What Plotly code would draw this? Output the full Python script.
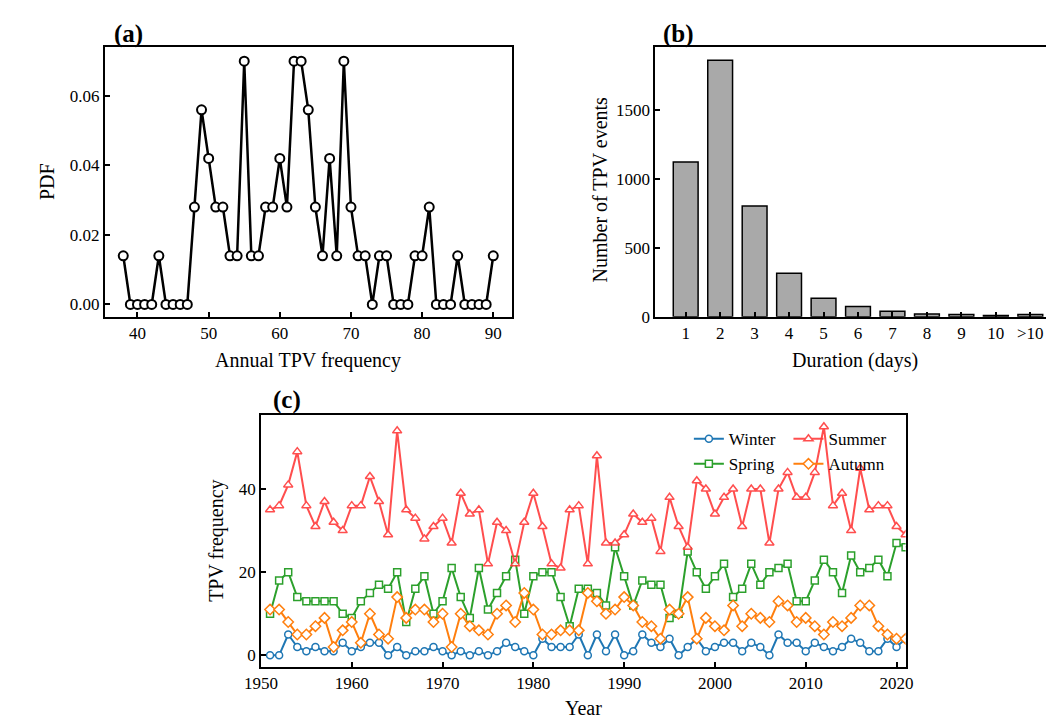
import plotly.graph_objects as go

# ---------------- data ----------------
# (a) PDF of annual TPV frequency
pdf_freq = list(range(38, 91))
pdf_vals = [0.014, 0, 0, 0, 0, 0.014, 0, 0, 0, 0,
            0.028, 0.056, 0.042, 0.028, 0.028, 0.014, 0.014, 0.070, 0.014, 0.014,
            0.028, 0.028, 0.042, 0.028, 0.070, 0.070, 0.056, 0.028, 0.014, 0.042,
            0.014, 0.070, 0.028, 0.014, 0.014, 0, 0.014, 0.014, 0, 0,
            0, 0.014, 0.014, 0.028, 0, 0, 0, 0.014, 0, 0,
            0, 0, 0.014]

# (b) duration histogram
dur_labels = ["1", "2", "3", "4", "5", "6", "7", "8", "9", "10", ">10"]
dur_counts = [1125, 1864, 804, 316, 133, 74, 39, 19, 15, 8, 16]

# (c) seasonal TPV frequency
years = list(range(1951, 2022))
winter = [0, 0, 5, 2, 1, 2, 1, 1, 3, 1,
          2, 3, 3, 0, 2, 0, 1, 1, 2, 1,
          0, 1, 0, 1, 0, 1, 3, 2, 1, 0,
          4, 2, 2, 2, 5, 0, 5, 1, 5, 0,
          1, 5, 3, 2, 4, 0, 2, 4, 1, 2,
          3, 3, 1, 3, 2, 0, 5, 3, 3, 1,
          3, 2, 1, 2, 4, 3, 1, 1, 4, 2, 4]
spring = [10, 18, 20, 14, 13, 13, 13, 13, 10, 9,
          13, 15, 17, 16, 20, 8, 16, 19, 10, 13,
          21, 14, 9, 21, 11, 15, 19, 23, 10, 19,
          20, 20, 14, 7, 16, 16, 15, 12, 26, 19,
          12, 18, 17, 17, 9, 10, 25, 20, 16, 19,
          22, 14, 16, 22, 17, 20, 21, 22, 13, 13,
          18, 23, 20, 15, 24, 20, 21, 23, 19, 27, 26]
summer = [35, 36, 41, 49, 36, 31, 37, 32, 30, 36,
          36, 43, 37, 29, 54, 35, 33, 28, 31, 33,
          27, 39, 34, 35, 22, 32, 30, 22, 32, 39,
          31, 22, 21, 35, 36, 22, 48, 27, 27, 29,
          34, 32, 33, 25, 38, 31, 26, 42, 40, 34,
          38, 40, 31, 40, 40, 27, 40, 44, 38, 38,
          44, 55, 36, 39, 30, 45, 35, 36, 36, 31, 29]
autumn = [11, 11, 8, 5, 5, 7, 9, 2, 6, 8,
          3, 10, 5, 4, 14, 9, 11, 11, 8, 10,
          2, 10, 7, 6, 5, 10, 12, 8, 15, 11,
          5, 5, 6, 6, 6, 15, 13, 10, 11, 14,
          12, 8, 7, 4, 11, 10, 14, 4, 9, 7,
          6, 12, 7, 10, 9, 8, 13, 12, 8, 9,
          7, 5, 8, 7, 9, 12, 12, 7, 5, 4, 4]

# ---------------- figure ----------------
W, H = 1054, 720
FONT = "Liberation Serif, Times New Roman, serif"
TICK = 17
TITLE = 20
LEG = 17
PANEL = 25


def px(x):
    return x / W


def py(y):
    return 1 - y / H


fig = go.Figure()

# (a)
fig.add_trace(go.Scatter(
    x=pdf_freq, y=pdf_vals, mode="lines+markers", xaxis="x", yaxis="y",
    line=dict(color="black", width=2.5),
    marker=dict(symbol="circle", size=9, color="white",
                line=dict(color="black", width=2)),
    showlegend=False, cliponaxis=False))

# (b)
fig.add_trace(go.Bar(
    x=dur_labels, y=dur_counts, xaxis="x2", yaxis="y2", width=0.72,
    marker=dict(color="#a9a9a9", line=dict(color="black", width=1.5)),
    showlegend=False))

# (c)
series = [
    ("Winter", winter, "#1f77b4", "circle", 7, "legend"),
    ("Spring", spring, "#2ca02c", "square", 7, "legend"),
    ("Summer", summer, "#ff3b3b", "triangle-up", 8, "legend2"),
    ("Autumn", autumn, "#ff7f0e", "diamond", 8, "legend2"),
]
for name, vals, col, sym, size, leg in series:
    fig.add_trace(go.Scatter(
        x=years, y=vals, name=name, mode="lines+markers", xaxis="x3", yaxis="y3",
        line=dict(color=col, width=2),
        marker=dict(symbol=sym, size=size, color="white",
                    line=dict(color=col, width=1.5)),
        opacity=0.9 if name == "Summer" else 1.0,
        legend=leg))

axis_common = dict(
    showline=True, linecolor="black", linewidth=1.5, mirror=True,
    ticks="inside", ticklen=5, tickwidth=1.5, tickcolor="black",
    showgrid=False, zeroline=False,
    tickfont=dict(family=FONT, size=TICK, color="black"),
)

a_dom_y = [py(313), py(40)]
fig.update_layout(
    width=W, height=H, margin=dict(l=0, r=0, t=0, b=0),
    paper_bgcolor="white", plot_bgcolor="white",
    font=dict(family=FONT, color="black"),
    xaxis=dict(domain=[px(81.7), px(498.6)], range=[35.4, 92.6],
               tickvals=[40, 50, 60, 70, 80, 90], anchor="y", **axis_common),
    yaxis=dict(domain=a_dom_y, range=[-0.00352, 0.07394],
               tickvals=[0, 0.02, 0.04, 0.06], tickformat=".2f", anchor="x",
               **axis_common),
    xaxis2=dict(domain=[px(645.5), 1.0], range=[-0.885, 10.687], type="category",
                anchor="y2", **axis_common),
    yaxis2=dict(domain=a_dom_y, range=[0, 1957], tickvals=[0, 500, 1000, 1500],
                anchor="x2", **axis_common),
    xaxis3=dict(domain=[px(241.7), px(902)], range=[1950, 2021],
                tickvals=[1950, 1960, 1970, 1980, 1990, 2000, 2010, 2020],
                anchor="y3", **axis_common),
    yaxis3=dict(domain=[py(668), py(413)], range=[-2.75, 57.75],
                tickvals=[0, 20, 40], anchor="x3", **axis_common),
    legend=dict(x=px(680), y=py(419), xanchor="left", yanchor="top",
                bgcolor="rgba(0,0,0,0)", borderwidth=0, orientation="v",
                font=dict(family=FONT, size=LEG, color="black"),
                tracegroupgap=0, itemwidth=30),
    legend2=dict(x=px(782), y=py(419), xanchor="left", yanchor="top",
                 bgcolor="rgba(0,0,0,0)", borderwidth=0, orientation="v",
                 font=dict(family=FONT, size=LEG, color="black"),
                 tracegroupgap=0, itemwidth=30),
)

annots = [
    dict(text="<b>(a)</b>", x=px(89), y=py(26), xanchor="left", size=PANEL),
    dict(text="<b>(b)</b>", x=px(651), y=py(26), xanchor="left", size=PANEL),
    dict(text="<b>(c)</b>", x=px(252), y=py(398), xanchor="left", size=PANEL),
    dict(text="Annual TPV frequency", x=px(290), y=py(357), xanchor="center", size=TITLE),
    dict(text="Duration (days)", x=px(850), y=py(357), xanchor="center", size=TITLE),
    dict(text="Year", x=px(572), y=py(710), xanchor="center", size=TITLE),
    dict(text="PDF", x=px(22), y=py(176), xanchor="center", size=TITLE, angle=-90),
    dict(text="Number of TPV events", x=px(589), y=py(184), xanchor="center",
         size=TITLE, angle=-90),
    dict(text="TPV frequency", x=px(196), y=py(540), xanchor="center",
         size=TITLE, angle=-90),
]
for a in annots:
    fig.add_annotation(text=a["text"], x=a["x"], y=a["y"], xref="paper", yref="paper",
                       xanchor=a["xanchor"], yanchor="middle", showarrow=False,
                       textangle=a.get("angle", 0),
                       font=dict(family=FONT, size=a["size"], color="black"))

fig.write_html("out.html")
